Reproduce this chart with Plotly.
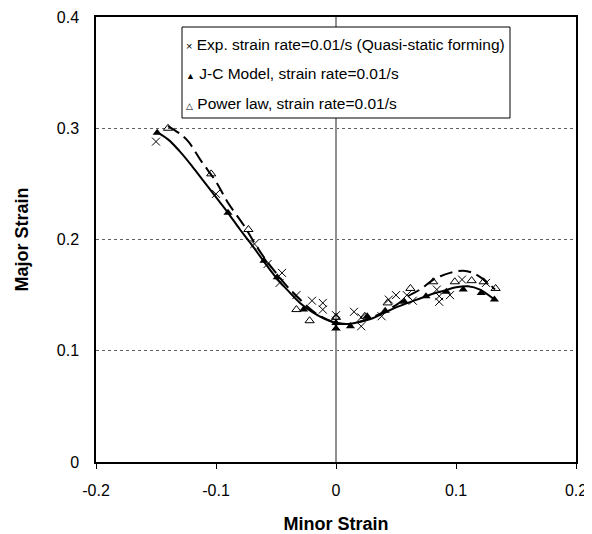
import plotly.graph_objects as go

# ---------------- data ----------------
exp_x = [-0.150, -0.100, -0.068, -0.057, -0.045, -0.047, -0.033, -0.020, -0.011, -0.011,
         0.000, 0.000, 0.000, 0.015, 0.021, 0.021, 0.038, 0.044, 0.050, 0.059, 0.064,
         0.084, 0.086, 0.086, 0.095, 0.105, 0.125]
exp_y = [0.288, 0.241, 0.196, 0.178, 0.170, 0.161, 0.150, 0.145, 0.143, 0.137,
         0.132, 0.127, 0.122, 0.135, 0.130, 0.122, 0.131, 0.146, 0.150, 0.150, 0.145,
         0.155, 0.149, 0.144, 0.150, 0.164, 0.161]

jc_x = [-0.149, -0.090, -0.060, -0.049, -0.027, 0.000, 0.000, 0.012, 0.026, 0.041,
        0.057, 0.075, 0.092, 0.106, 0.121, 0.132]
jc_y = [0.296, 0.224, 0.181, 0.166, 0.137, 0.125, 0.120, 0.122, 0.131, 0.136,
        0.144, 0.149, 0.153, 0.155, 0.152, 0.146]

pl_x = [-0.140, -0.104, -0.073, -0.033, -0.022, 0.000, 0.024, 0.043, 0.062, 0.081,
        0.099, 0.113, 0.123, 0.133]
pl_y = [0.300, 0.259, 0.209, 0.137, 0.127, 0.130, 0.131, 0.143, 0.156, 0.162,
        0.162, 0.163, 0.162, 0.156]

jc_curve_x = [-0.150, -0.140, -0.130, -0.120, -0.110, -0.100, -0.090, -0.080, -0.070,
              -0.060, -0.050, -0.040, -0.030, -0.020, -0.010, 0.000, 0.010, 0.020,
              0.030, 0.040, 0.050, 0.060, 0.070, 0.080, 0.090, 0.100, 0.110, 0.120, 0.132]
jc_curve_y = [0.297, 0.290, 0.279, 0.266, 0.252, 0.238, 0.224, 0.209, 0.195,
              0.180, 0.166, 0.154, 0.143, 0.135, 0.129, 0.125, 0.124, 0.126,
              0.129, 0.134, 0.139, 0.143, 0.147, 0.151, 0.154, 0.157, 0.158, 0.155, 0.146]

pl_curve_x = [-0.140, -0.130, -0.123, -0.112, -0.100, -0.090, -0.077, -0.068, -0.060,
              -0.050, -0.040, -0.030, -0.016, 0.000, 0.010, 0.020, 0.030, 0.040, 0.050,
              0.060, 0.070, 0.080, 0.087, 0.095, 0.106, 0.114, 0.1255, 0.1325]
pl_curve_y = [0.302, 0.295, 0.288, 0.270, 0.252, 0.233, 0.213, 0.197, 0.184,
              0.170, 0.157, 0.146, 0.133, 0.125, 0.124, 0.126, 0.130, 0.135, 0.141,
              0.149, 0.155, 0.163, 0.167, 0.170, 0.172, 0.170, 0.162, 0.155]

x_ticks = [-0.2, -0.1, 0.0, 0.1, 0.2]
x_tick_labels = ["-0.2", "-0.1", "0", "0.1", "0.2"]
y_ticks = [0.0, 0.1, 0.2, 0.3, 0.4]
y_tick_labels = ["0", "0.1", "0.2", "0.3", "0.4"]

legend_labels = [
    "Exp. strain rate=0.01/s (Quasi-static forming)",
    "J-C Model, strain rate=0.01/s",
    "Power law, strain rate=0.01/s",
]
legend_glyphs = ["×", "▲", "△"]

FONT = "Liberation Sans, Arial, sans-serif"

fig = go.Figure()

fig.add_trace(go.Scatter(x=jc_curve_x, y=jc_curve_y, mode="lines",
                         line=dict(color="black", width=2, shape="spline"),
                         showlegend=False, hoverinfo="skip"))
fig.add_trace(go.Scatter(x=pl_curve_x, y=pl_curve_y, mode="lines",
                         line=dict(color="black", width=2, shape="spline", dash="13px,6px"),
                         showlegend=False, hoverinfo="skip"))
fig.add_trace(go.Scatter(x=exp_x, y=exp_y, mode="markers", name=legend_labels[0],
                         marker=dict(symbol="x-thin-open", size=8, color="black",
                                     line=dict(color="black", width=1)),
                         showlegend=False))
fig.add_trace(go.Scatter(x=jc_x, y=jc_y, mode="markers", name=legend_labels[1],
                         marker=dict(symbol="triangle-up", size=8, color="black"),
                         showlegend=False))
fig.add_trace(go.Scatter(x=pl_x, y=pl_y, mode="markers", name=legend_labels[2],
                         marker=dict(symbol="triangle-up-open", size=8, color="black",
                                     line=dict(color="black", width=1)),
                         showlegend=False))

# The page adds an 8px body margin; figure sized to fill the rest of the window.
OFF = 8
W, H = 592 - OFF, 534 - OFF
# plot area in screen pixels: x 96..576, y 17..462
PX0, PX1, PY0, PY1 = 96 - OFF, 576 - OFF, 17 - OFF, 462 - OFF


def px2paper(px, py):
    fx, fy = px - OFF, py - OFF
    return (fx - PX0) / (PX1 - PX0), (PY1 - fy) / (PY1 - PY0)


# legend box
lx0, ly0 = px2paper(182, 27)
lx1, ly1 = px2paper(510, 118)
fig.add_shape(type="rect", xref="paper", yref="paper", x0=lx0, y0=ly1, x1=lx1, y1=ly0,
              line=dict(color="black", width=1), fillcolor="white", layer="above")
row_y = [44, 73.5, 103]
glyph_sizes = [11, 9, 9]
for lab, g, gs, ry in zip(legend_labels, legend_glyphs, glyph_sizes, row_y):
    ax_, ay_ = px2paper(184, ry)
    fig.add_annotation(xref="paper", yref="paper", x=ax_, y=ay_, xanchor="left",
                       yanchor="middle", showarrow=False,
                       text=f"<span style='font-size:{gs}px'>{g}</span> {lab}",
                       font=dict(family=FONT, size=15.5, color="black"))

fig.update_xaxes(range=[-0.2, 0.2], tickvals=x_ticks, ticktext=x_tick_labels,
                 showgrid=False, zeroline=True, zerolinecolor="#909090", zerolinewidth=1.5,
                 showline=True, linecolor="black", linewidth=1.5, mirror=True,
                 ticks="outside", ticklen=5, tickcolor="black", tickwidth=1,
                 ticklabelstandoff=8,
                 tickfont=dict(family=FONT, size=16, color="black"),
                 title=dict(text="<b>Minor Strain</b>", standoff=20,
                            font=dict(family=FONT, size=18, color="black")))
fig.update_yaxes(range=[0, 0.4], tickvals=y_ticks, ticktext=y_tick_labels,
                 showgrid=True, gridcolor="#606060", gridwidth=1, griddash="dot",
                 zeroline=False,
                 showline=True, linecolor="black", linewidth=1.5, mirror=True,
                 ticks="", ticklabelstandoff=12,
                 tickfont=dict(family=FONT, size=16, color="black"),
                 title=dict(text="<b>Major Strain</b>", standoff=23,
                            font=dict(family=FONT, size=18, color="black")))

fig.update_layout(width=W, height=H,
                  margin=dict(l=PX0, r=W - PX1, t=PY0, b=H - PY1, autoexpand=False),
                  plot_bgcolor="white", paper_bgcolor="white",
                  showlegend=False)

fig.write_html("out.html")
